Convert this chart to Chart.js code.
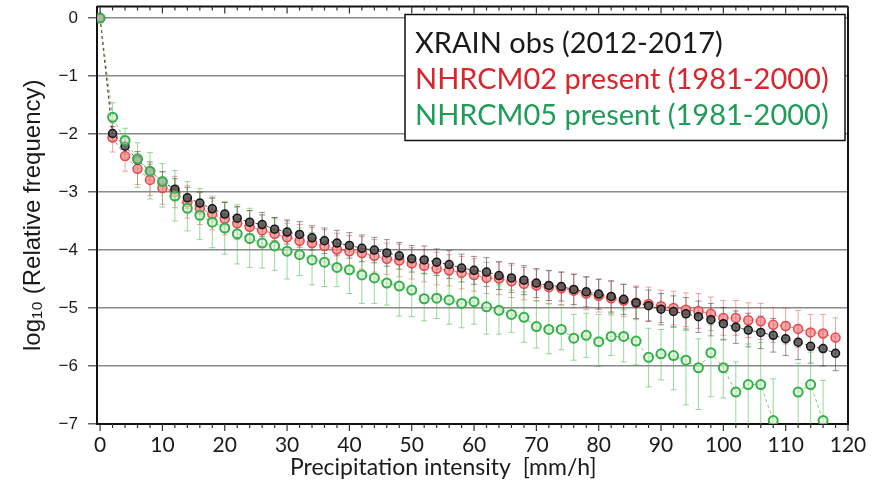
<!DOCTYPE html>
<html>
<head>
<meta charset="utf-8">
<script src="https://cdn.jsdelivr.net/npm/chart.js@4.4.0/dist/chart.umd.min.js"></script>
<style>
  html, body { margin: 0; padding: 0; background: #fff; }
</style>
</head>
<body>
<canvas id="myChart" width="876" height="494"></canvas>
<script>
// intensity bins [mm/h]
var intensity = [0, 2, 4, 6, 8, 10, 12, 14, 16, 18, 20, 22, 24, 26, 28, 30, 32, 34, 36, 38,
                 40, 42, 44, 46, 48, 50, 52, 54, 56, 58, 60, 62, 64, 66, 68, 70, 72, 74, 76, 78,
                 80, 82, 84, 86, 88, 90, 92, 94, 96, 98, 100, 102, 104, 106, 108, 110, 112, 114, 116, 118];

// XRAIN obs (black)
var xrain = [0, -1.99, -2.21, -2.45, -2.64, -2.82, -2.95, -3.10, -3.19, -3.29,
             -3.38, -3.45, -3.52, -3.56, -3.64, -3.69, -3.73, -3.79, -3.84, -3.88,
             -3.92, -3.97, -4.00, -4.05, -4.10, -4.15, -4.17, -4.21, -4.25, -4.31,
             -4.35, -4.38, -4.44, -4.48, -4.52, -4.57, -4.61, -4.63, -4.68, -4.72,
             -4.76, -4.80, -4.85, -4.91, -4.96, -5.02, -5.06, -5.10, -5.15, -5.20,
             -5.27, -5.33, -5.38, -5.42, -5.47, -5.53, -5.59, -5.66, -5.70, -5.78];
var xrainErr = [0, 0.12, 0.14, 0.15, 0.16, 0.17, 0.18, 0.18, 0.19, 0.19,
                0.2, 0.2, 0.2, 0.21, 0.2, 0.21, 0.22, 0.21, 0.22, 0.22,
                0.22, 0.23, 0.22, 0.23, 0.23, 0.23, 0.24, 0.23, 0.24, 0.24,
                0.24, 0.25, 0.24, 0.25, 0.25, 0.25, 0.26, 0.25, 0.26, 0.26,
                0.26, 0.27, 0.26, 0.27, 0.27, 0.27, 0.27, 0.28, 0.27, 0.28,
                0.28, 0.28, 0.29, 0.28, 0.29, 0.29, 0.3, 0.29, 0.3, 0.3];

// NHRCM02 present (red)
var nhrcm02 = [0, -2.06, -2.38, -2.60, -2.79, -2.93, -3.00, -3.17, -3.28, -3.38,
               -3.46, -3.54, -3.60, -3.66, -3.72, -3.78, -3.84, -3.88, -3.93, -3.99,
               -4.02, -4.05, -4.10, -4.15, -4.18, -4.23, -4.27, -4.32, -4.35, -4.39,
               -4.43, -4.48, -4.49, -4.54, -4.58, -4.61, -4.64, -4.66, -4.70, -4.75,
               -4.79, -4.83, -4.87, -4.91, -4.93, -4.97, -5.00, -5.03, -5.05, -5.10,
               -5.17, -5.17, -5.21, -5.23, -5.29, -5.31, -5.36, -5.42, -5.44, -5.51];
var nhrcm02Err = [0, 0.25, 0.26, 0.27, 0.27, 0.28, 0.27, 0.28, 0.28, 0.27,
                  0.28, 0.28, 0.28, 0.27, 0.28, 0.28, 0.28, 0.27, 0.28, 0.28,
                  0.27, 0.28, 0.28, 0.27, 0.28, 0.27, 0.28, 0.28, 0.27, 0.28,
                  0.28, 0.27, 0.28, 0.28, 0.28, 0.27, 0.28, 0.28, 0.29, 0.28,
                  0.28, 0.29, 0.28, 0.29, 0.29, 0.28, 0.29, 0.29, 0.3, 0.29,
                  0.3, 0.3, 0.3, 0.31, 0.3, 0.31, 0.32, 0.31, 0.33, 0.34];

// NHRCM05 present (green)
var nhrcm05 = [0, -1.71, -2.11, -2.43, -2.64, -2.82, -3.07, -3.28, -3.40, -3.52,
               -3.62, -3.72, -3.80, -3.88, -3.93, -4.02, -4.08, -4.17, -4.21, -4.30,
               -4.34, -4.43, -4.48, -4.57, -4.62, -4.69, -4.84, -4.83, -4.86, -4.92,
               -4.89, -4.98, -5.04, -5.11, -5.16, -5.32, -5.37, -5.37, -5.52, -5.47,
               -5.58, -5.49, -5.49, -5.57, -5.85, -5.79, -5.82, -5.90, -6.03, -5.77,
               -6.03, -6.45, -6.32, -6.32, -6.94, null, -6.45, -6.32, -6.94, null];
var nhrcm05ErrUp = [0, 0.25, 0.21, 0.28, 0.32, 0.31, 0.44, 0.46, 0.46, 0.45,
                    0.46, 0.5, 0.52, 0.48, 0.47, 0.48, 0.46, 0.47, 0.45, 0.46,
                    0.45, 0.46, 0.44, 0.46, 0.45, 0.4, 0.44, 0.42, 0.43, 0.44,
                    0.42, 0.45, 0.44, 0.42, 0.44, 0.45, 0.44, 0.42, 0.41, 0.38,
                    0.47, 0.4, 0.46, 0.6, 0.5, 0.42, 0.5, 0.55, 0.5, 0.48,
                    0.49, 0.52, 0.7, 0.73, 0.72, 0, 0.5, 0.56, 0.69, 0];
var nhrcm05ErrDown = [0, 0.3, 0.3, 0.49, 0.48, 0.44, 0.43, 0.39, 0.42, 0.44,
                      0.45, 0.52, 0.5, 0.43, 0.42, 0.48, 0.36, 0.43, 0.42, 0.33,
                      0.41, 0.49, 0.44, 0.38, 0.52, 0.46, 0.38, 0.35, 0.42, 0.42,
                      0.39, 0.47, 0.41, 0.31, 0.43, 0.37, 0.42, 0.35, 0.38, 0.38,
                      0.43, 0.33, 0.44, 0.41, 0.51, 0.45, 0.59, 0.77, 0.72, 0.76,
                      0.52, 1.0, 1.0, 1.0, 1.0, 0, 1.0, 1.0, 1.0, 0];

var xTicks = [0, 10, 20, 30, 40, 50, 60, 70, 80, 90, 100, 110, 120];
var yTicks = [0, -1, -2, -3, -4, -5, -6, -7];
var legendLabels = ['XRAIN obs (2012-2017)', 'NHRCM02 present (1981-2000)', 'NHRCM05 present (1981-2000)'];
var legendColors = ['#1a1a1a', '#d8262c', '#1f9d58'];
var xTitle = 'Precipitation intensity  [mm/h]';
var yTitle = 'log\u2081\u2080 (Relative frequency)';

function puntos(valores) {
    return intensity.map(function(x, i) {
        return { x: x, y: valores[i] };
    });
}

// barras de error, dibujadas con las escalas del grafico
var errorBars = {
    id: 'errorBars',
    beforeDatasetsDraw: function(chart) {
        var ctx = chart.ctx;
        var xs = chart.scales.x, ys = chart.scales.y, area = chart.chartArea;
        ctx.save();
        ctx.beginPath();
        ctx.rect(area.left, area.top, area.right - area.left, area.bottom - area.top);
        ctx.clip();
        var lista = chart.data.datasets.slice().sort(function(a, b) { return b.order - a.order; });
        lista.forEach(function(ds) {
            ctx.strokeStyle = ds.errColor;
            ctx.lineWidth = 1;
            ds.data.forEach(function(p, i) {
                if (p.y === null) return;
                var up = ds.errUp[i], dn = ds.errDown[i];
                if (!up && !dn) return;
                var px = xs.getPixelForValue(p.x);
                var y1 = ys.getPixelForValue(p.y + up);
                var y2 = ys.getPixelForValue(p.y - dn);
                ctx.beginPath();
                ctx.moveTo(px, y1); ctx.lineTo(px, y2);
                ctx.moveTo(px - 3, y1); ctx.lineTo(px + 3, y1);
                ctx.moveTo(px - 3, y2); ctx.lineTo(px + 3, y2);
                ctx.stroke();
            });
        });
        ctx.restore();
    }
};

// marco superior/derecho, ticks menores y titulo del eje x
var marco = {
    id: 'marco',
    afterDraw: function(chart) {
        var ctx = chart.ctx, xs = chart.scales.x, area = chart.chartArea;
        ctx.save();
        ctx.strokeStyle = '#111';
        ctx.lineWidth = 2;
        ctx.beginPath();
        ctx.moveTo(area.left, area.top); ctx.lineTo(area.right, area.top);
        ctx.moveTo(area.right, area.top); ctx.lineTo(area.right, area.bottom);
        ctx.stroke();
        ctx.lineWidth = 1.2;
        ctx.strokeStyle = '#333';
        ctx.beginPath();
        for (var v = 0; v <= 120; v += 2) {
            var px = xs.getPixelForValue(v);
            var len = (v % 10 === 0) ? 7 : 4;
            ctx.moveTo(px, area.top); ctx.lineTo(px, area.top + len);
            ctx.moveTo(px, area.bottom); ctx.lineTo(px, area.bottom + len);
        }
        ctx.stroke();

        ctx.fillStyle = '#1a1a1a';
        ctx.font = '23px Lato';
        ctx.textAlign = 'center';
        ctx.textBaseline = 'middle';
        ctx.fillText(xTitle, area.left + (area.right - area.left) * 0.461, 468);
        ctx.restore();
    }
};

var leyenda = {
    id: 'leyenda',
    afterDraw: function(chart) {
        var ctx = chart.ctx, area = chart.chartArea;
        var bx = area.right - 443, by = area.top + 8, bw = 440, bh = 126;
        ctx.save();
        ctx.fillStyle = '#fff';
        ctx.fillRect(bx, by, bw, bh);
        ctx.strokeStyle = '#111';
        ctx.lineWidth = 1.5;
        ctx.strokeRect(bx, by, bw, bh);
        ctx.font = '29px Lato';
        ctx.textAlign = 'left';
        ctx.textBaseline = 'alphabetic';
        legendLabels.forEach(function(t, i) {
            ctx.fillStyle = legendColors[i];
            ctx.fillText(t, bx + 10, by + 38 + i * 36);
        });
        ctx.restore();
    }
};

var ctx = document.getElementById('myChart').getContext('2d');
var myChart = new Chart(ctx, {
    type: 'line',
    data: {
        datasets: [
            {
                label: legendLabels[0],
                data: puntos(xrain),
                errUp: xrainErr,
                errDown: xrainErr,
                errColor: 'rgba(60, 60, 60, 0.55)',
                order: 1,
                borderColor: 'rgba(40, 40, 40, 0.8)',
                borderWidth: 1,
                borderDash: [3, 3],
                pointRadius: 4,
                pointBackgroundColor: 'rgba(85, 85, 85, 0.85)',
                pointBorderColor: '#151515',
                pointBorderWidth: 1.5
            },
            {
                label: legendLabels[1],
                data: puntos(nhrcm02),
                errUp: nhrcm02Err,
                errDown: nhrcm02Err,
                errColor: 'rgba(225, 80, 80, 0.5)',
                order: 2,
                borderColor: 'rgba(225, 60, 60, 0.7)',
                borderWidth: 1,
                borderDash: [3, 3],
                pointRadius: 4.5,
                pointBackgroundColor: 'rgba(245, 140, 140, 0.75)',
                pointBorderColor: '#e5474d',
                pointBorderWidth: 1.5
            },
            {
                label: legendLabels[2],
                data: puntos(nhrcm05),
                errUp: nhrcm05ErrUp,
                errDown: nhrcm05ErrDown,
                errColor: 'rgba(70, 185, 70, 0.55)',
                order: 0,
                borderColor: 'rgba(70, 175, 70, 0.7)',
                borderWidth: 1,
                borderDash: [3, 3],
                pointRadius: 4.5,
                pointBackgroundColor: 'rgba(215, 242, 210, 0.6)',
                pointBorderColor: '#35b04a',
                pointBorderWidth: 2
            }
        ]
    },
    options: {
        responsive: false,
        animation: false,
        spanGaps: false,
        layout: { padding: { top: 1, right: 28, left: 0, bottom: 0 } },
        plugins: {
            legend: { display: false },
            tooltip: { enabled: false }
        },
        scales: {
            x: {
                type: 'linear',
                min: -0.5,
                max: 120,
                afterBuildTicks: function(scale) {
                    scale.ticks = xTicks.map(function(v) { return { value: v }; });
                },
                afterFit: function(scale) {
                    scale.height = 70;
                    scale.paddingLeft = 0;
                    scale.paddingRight = 0;
                },
                grid: { drawOnChartArea: false, drawTicks: false },
                border: { color: '#111', width: 2 },
                ticks: {
                    autoSkip: false,
                    maxRotation: 0,
                    padding: 9,
                    color: '#1a1a1a',
                    font: { family: 'Lato', size: 21 }
                }
            },
            y: {
                min: -7,
                max: 0.2,
                afterBuildTicks: function(scale) {
                    scale.ticks = yTicks.map(function(v) { return { value: v }; });
                },
                afterFit: function(scale) {
                    scale.width = 97;
                    scale.paddingTop = 0;
                    scale.paddingBottom = 0;
                },
                grid: { color: '#8a8a8a', lineWidth: 1.5, tickLength: 9, tickColor: '#666' },
                border: { color: '#111', width: 2 },
                ticks: {
                    padding: 10,
                    color: '#1a1a1a',
                    font: { family: 'Liberation Sans', size: 17 },
                    callback: function(v) { return v === 0 ? '0' : '\u2212' + Math.abs(v); }
                },
                title: {
                    display: true,
                    text: yTitle,
                    color: '#1a1a1a',
                    font: { family: 'Liberation Sans', size: 24 },
                    padding: { top: 19, bottom: 0 }
                }
            }
        }
    },
    plugins: [errorBars, marco, leyenda]
});
</script>
</body>
</html>
